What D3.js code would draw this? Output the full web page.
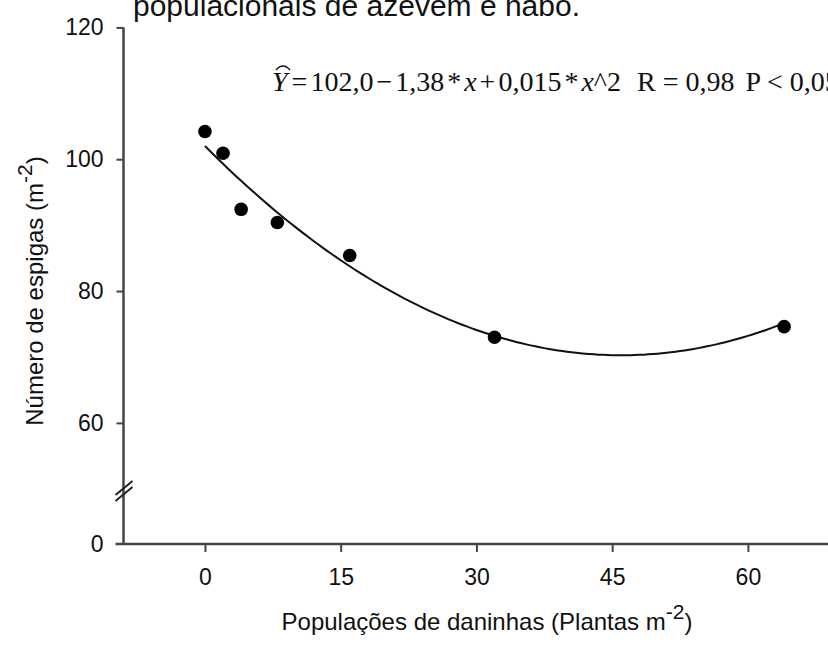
<!DOCTYPE html>
<html>
<head>
<meta charset="utf-8">
<script src="https://cdn.jsdelivr.net/npm/d3@7"></script>
<style>
	body { margin: 0; background: #fff; }
	svg { display: block; }
	.tick text { font-family: "Liberation Sans", Arial, sans-serif; font-size: 23px; fill: #111; }
</style>
</head>
<body>
<svg id="chart" width="828" height="646"></svg>
<script>
// weed density (plants m-2) and spikes per m2
const densities = [0, 2, 4, 8, 16, 32, 64]
const spikes = [104.2, 100.9, 92.4, 90.4, 85.4, 73.0, 74.6]
const xTicks = [0, 15, 30, 45, 60]
const yTicks = [0, 60, 80, 100, 120]
// fitted model: Y = 102.0 - 1.38 x + 0.015 x^2
const coef = [102.0, -1.38, 0.015]
const fitX = d3.range(0, 64.5, 0.5)

const svg = d3.select("#chart")
const axisColor = "#444"
const sans = "'Liberation Sans', Arial, sans-serif"

const x = d3.scaleLinear()
	.domain([-9, 72])
	.range([123.5, 856.5])
// broken axis: 0 sits below the break, 60..120 above it
const y = d3.scaleLinear()
	.domain([0, 50, 120])
	.range([544, 488.8, 27.4])

const fit = v => coef[0] + coef[1] * v + coef[2] * v * v

// x axis
const gx = svg.append("g")
	.attr("transform", `translate(0,${y(0)})`)
	.call(d3.axisBottom(x).tickValues(xTicks).tickSize(8).tickPadding(17).tickSizeOuter(0))
gx.select(".domain").remove()
gx.selectAll(".tick line").attr("stroke", axisColor).attr("stroke-width", 2)
gx.append("line")
	.attr("x1", x(-9) - 8)
	.attr("x2", 828)
	.attr("stroke", axisColor)
	.attr("stroke-width", 2.5)

// y axis
const gy = svg.append("g")
	.attr("transform", `translate(${x(-9)},0)`)
	.call(d3.axisLeft(y).tickValues(yTicks).tickSize(7).tickPadding(13).tickSizeOuter(0))
gy.select(".domain").remove()
gy.selectAll(".tick line").attr("stroke", axisColor).attr("stroke-width", 2)
gy.selectAll(".tick").filter(d => d === 0).select("line").remove()
gy.append("line")
	.attr("y1", y(120))
	.attr("y2", y(0))
	.attr("stroke", axisColor)
	.attr("stroke-width", 2.5)

// break marks
const breakY = y(48)
;[-3, 3].forEach(off => {
	gy.append("line")
		.attr("x1", -8)
		.attr("y1", breakY + off + 7)
		.attr("x2", 9)
		.attr("y2", breakY + off - 7)
		.attr("stroke", "#222")
		.attr("stroke-width", 2)
})

// fitted curve
svg.append("path")
	.datum(fitX)
	.attr("fill", "none")
	.attr("stroke", "#111")
	.attr("stroke-width", 2)
	.attr("d", d3.line().x(d => x(d)).y(d => y(fit(d))))

// observed points
svg.selectAll(".pt")
	.data(densities)
	.enter()
	.append("circle")
	.attr("class", "pt")
	.attr("cx", d => x(d))
	.attr("cy", (d, i) => y(spikes[i]))
	.attr("r", 6.8)
	.attr("fill", "#000")

// equation, pieces spaced like an equation editor would
const eqParts = [
	["Y", true, 0], ["=", false, 4], ["102,0", false, 3], ["−", false, 3], ["1,38", false, 3],
	["*", false, 3], ["x", true, 3], ["+", false, 3], ["0,015", false, 3], ["*", false, 3],
	["x", true, 3], ["^2", false, 0], ["R = 0,98", false, 16], ["P < 0,05", false, 11]
]
const eq = svg.append("text")
	.attr("x", 272)
	.attr("y", 91)
	.attr("font-family", "'Liberation Serif', 'Times New Roman', serif")
	.attr("font-size", 28)
	.attr("fill", "#111")
eq.selectAll("tspan")
	.data(eqParts)
	.enter()
	.append("tspan")
	.attr("dx", d => d[2])
	.attr("font-style", d => d[1] ? "italic" : null)
	.text(d => d[0])
svg.append("path")
	.attr("d", "M276,70 Q283,62 290,70")
	.attr("fill", "none")
	.attr("stroke", "#111")
	.attr("stroke-width", 1.3)

// cut-off caption at the top
svg.append("text")
	.attr("x", 133)
	.attr("y", 16)
	.attr("font-family", sans)
	.attr("font-size", 30)
	.attr("fill", "#111")
	.text("populacionais de azevém e nabo.")

// axis titles
const xt = svg.append("text")
	.attr("x", 487)
	.attr("y", 630)
	.attr("text-anchor", "middle")
	.attr("font-family", sans)
	.attr("font-size", 24)
	.attr("fill", "#111")
xt.append("tspan").text("Populações de daninhas (Plantas m")
xt.append("tspan").attr("dy", -11).attr("font-size", 21).text("-2")
xt.append("tspan").attr("dy", 11).text(")")

const yt = svg.append("text")
	.attr("transform", `translate(43,${y(80)}) rotate(-90)`)
	.attr("text-anchor", "middle")
	.attr("font-family", sans)
	.attr("font-size", 24)
	.attr("fill", "#111")
yt.append("tspan").text("Número de espigas (m")
yt.append("tspan").attr("dy", -11).attr("font-size", 21).text("-2")
yt.append("tspan").attr("dy", 11).text(")")
</script>
</body>
</html>
